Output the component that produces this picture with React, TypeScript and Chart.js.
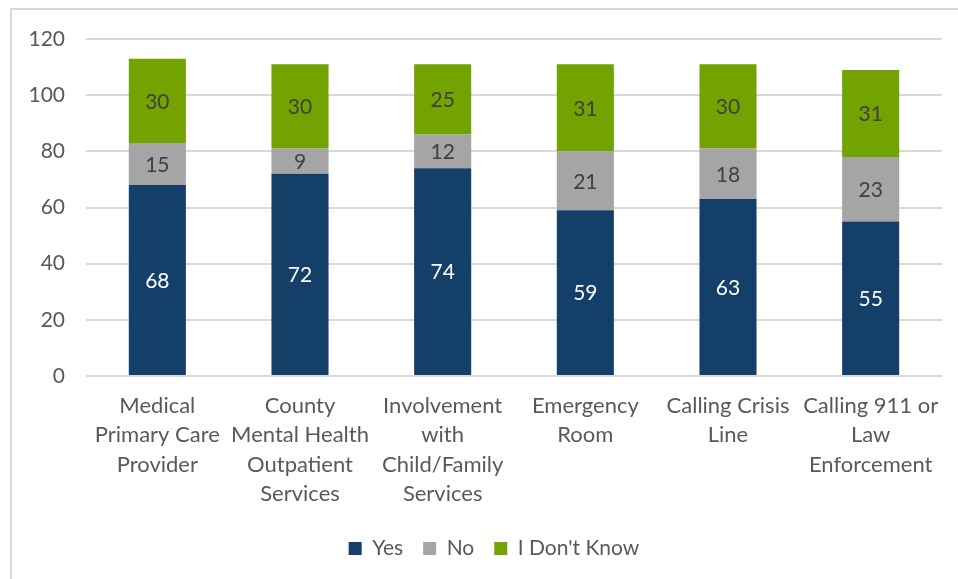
import React, { useEffect, useRef } from "react";
import { Chart, registerables } from "chart.js";

Chart.register(...registerables);

const categories: string[][] = [
  ["Medical", "Primary Care", "Provider"],
  ["County", "Mental Health", "Outpatient", "Services"],
  ["Involvement", "with", "Child/Family", "Services"],
  ["Emergency", "Room"],
  ["Calling Crisis", "Line"],
  ["Calling 911 or", "Law", "Enforcement"],
];
const yesValues = [68, 72, 74, 59, 63, 55];
const noValues = [15, 9, 12, 21, 18, 23];
const dontKnowValues = [30, 30, 25, 31, 30, 31];
const seriesNames = ["Yes", "No", "I Don't Know"];
const yTicks = [0, 20, 40, 60, 80, 100, 120];

const FONT = "Lato, 'Open Sans', sans-serif";
const labelColors = ["#ffffff", "#404040", "#404040"];

const dataLabelPlugin = {
  id: "segLabels",
  afterLayout(chart: any) {
    const lg = chart.legend;
    if (lg) {
      lg.left += 23;
      lg.right += 23;
    }
  },
  afterDatasetsDraw(chart: any) {
    const ctx = chart.ctx;
    ctx.save();
    ctx.font = `21px ${FONT}`;
    ctx.textAlign = "center";
    ctx.textBaseline = "middle";
    chart.data.datasets.forEach((ds: any, di: number) => {
      const meta = chart.getDatasetMeta(di);
      meta.data.forEach((el: any, i: number) => {
        const v = ds.data[i];
        const cy = (el.y + el.base) / 2;
        ctx.fillStyle = labelColors[di];
        ctx.fillText(String(v), el.x, cy + 1);
      });
    });
    ctx.restore();
  },
};

export default function App() {
  const ref = useRef<HTMLCanvasElement | null>(null);
  useEffect(() => {
    if (!ref.current) return;
    const chart = new Chart(ref.current, {
      type: "bar",
      data: {
        labels: categories,
        datasets: [
          { label: seriesNames[0], data: yesValues, backgroundColor: "#133F69" },
          { label: seriesNames[1], data: noValues, backgroundColor: "#A5A5A5" },
          { label: seriesNames[2], data: dontKnowValues, backgroundColor: "#72A300" },
        ],
      },
      options: {
        animation: false,
        responsive: false,
        maintainAspectRatio: false,
        layout: { padding: { left: 0, right: 16, top: 39, bottom: 10 } },
        datasets: { bar: { barPercentage: 0.4, categoryPercentage: 1 } },
        scales: {
          x: {
            stacked: true,
            grid: { display: false, drawTicks: false },
            border: { display: false },
            ticks: {
              autoSkip: false,
              maxRotation: 0,
              minRotation: 0,
              padding: 15,
              color: "#595959",
              font: { family: FONT, size: 22, lineHeight: 1.34 },
            },
            afterFit: (s: any) => {
              s.height = 142;
            },
          },
          y: {
            stacked: true,
            min: 0,
            max: 120,
            afterBuildTicks: (s: any) => {
              s.ticks = yTicks.map((v) => ({ value: v }));
            },
            grid: { color: "#D9D9D9", lineWidth: 2, drawTicks: false },
            border: { display: false },
            ticks: {
              padding: 21,
              color: "#595959",
              font: { family: FONT, size: 21 },
            },
            afterFit: (s: any) => {
              s.width = 86;
            },
          },
        },
        plugins: {
          legend: {
            position: "bottom",
            labels: {
              boxWidth: 13,
              boxHeight: 13,
              padding: 20,
              color: "#595959",
              font: { family: FONT, size: 21 },
            },
          },
          tooltip: { enabled: false },
        },
      },
      plugins: [dataLabelPlugin],
    });
    return () => chart.destroy();
  }, []);

  return (
    <div style={{ position: "absolute", left: 0, top: 0, width: 958, height: 579, background: "#fff" }}>
      <div
        style={{
          position: "absolute",
          left: 10,
          top: 8,
          right: 0,
          bottom: 0,
          borderLeft: "2px solid #D9D9D9",
          borderTop: "2px solid #D9D9D9",
        }}
      />
      <canvas ref={ref} width={958} height={579} style={{ position: "absolute", left: 0, top: 0 }} />
    </div>
  );
}
